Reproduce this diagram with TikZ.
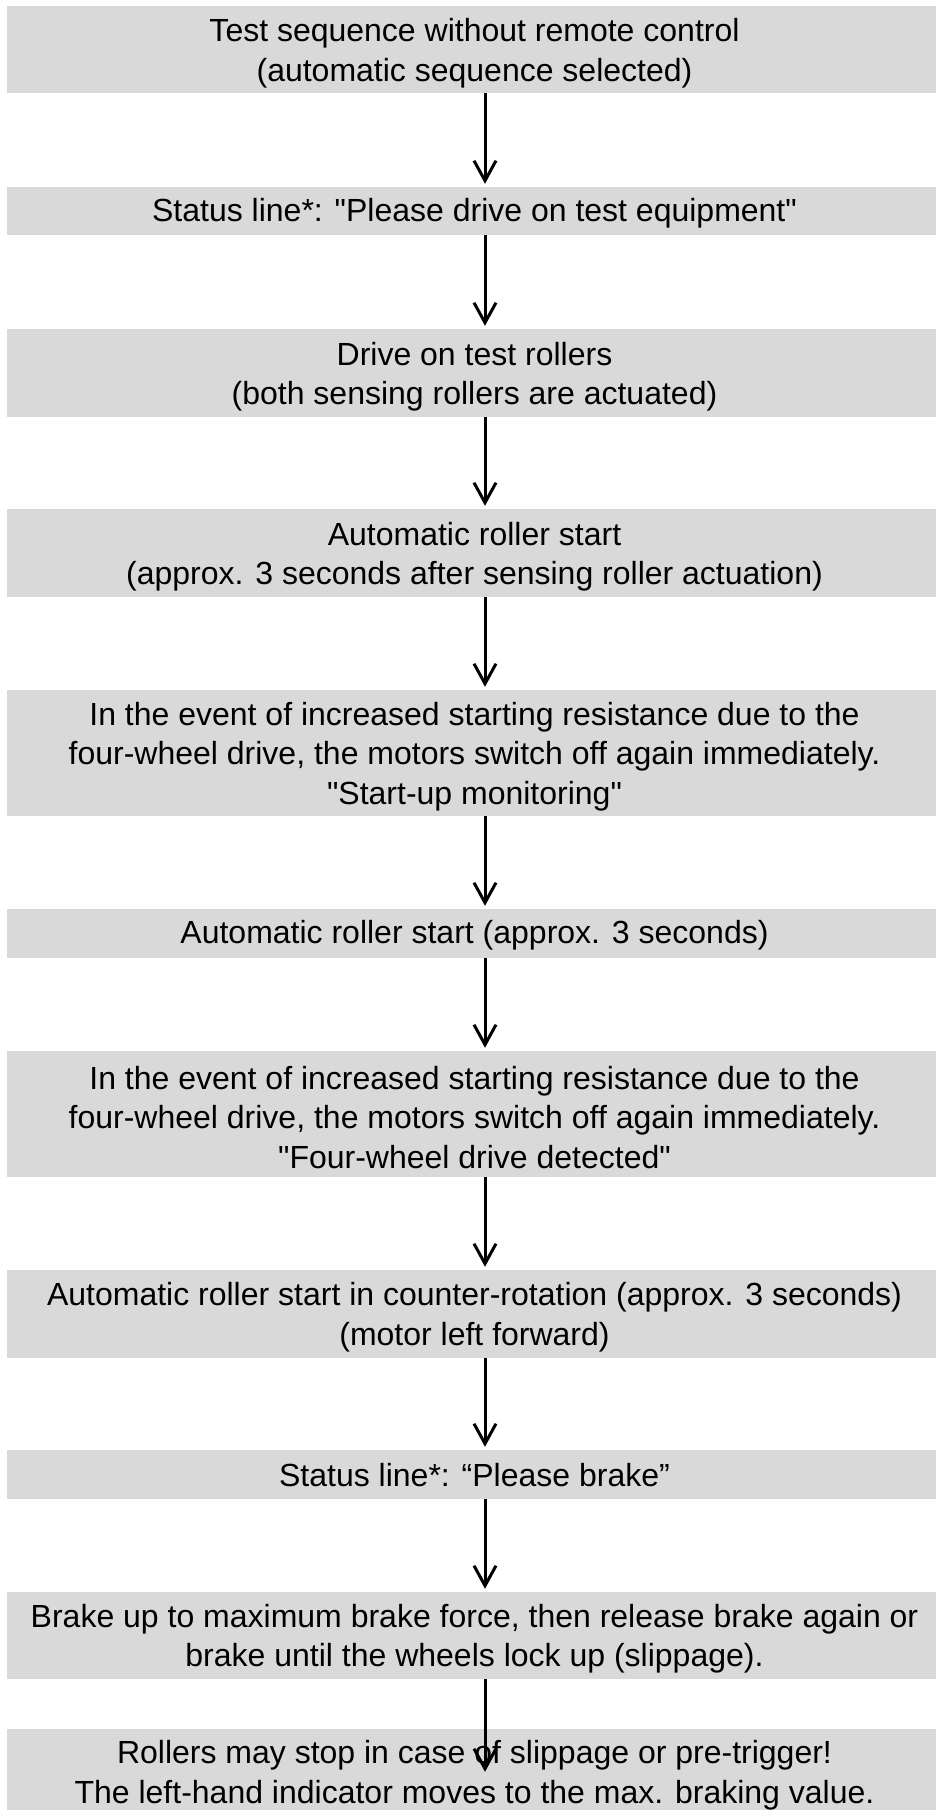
\documentclass[tikz,border=0pt]{standalone}
\usepackage{fontspec}
\setmainfont{Liberation Sans}
\usetikzlibrary{arrows.meta,calc}
\definecolor{boxgray}{RGB}{217,217,217}
\newcommand{\dq}{\textquotedbl}
\begin{document}
\begin{tikzpicture}[x=1pt,y=-1pt,
  stepbox/.style={fill=boxgray, inner sep=0pt, minimum width=935pt, anchor=center},
  steptext/.style={inner sep=0pt, align=center, font=\fontsize{32}{39.5}\selectfont, anchor=center},
  flow/.style={line width=3pt, -{Straight Barb[length=20pt,width=22pt,line width=3pt]}, shorten >=3pt}]
\useasboundingbox (0,0) rectangle (935,1810);
\coordinate (ax) at (485,0);
\node[stepbox, minimum height=87pt] (b1) at (474.5,49.5) {};
\node[stepbox, minimum height=48pt] (b2) at (474.5,211) {};
\node[stepbox, minimum height=88pt] (b3) at (474.5,373) {};
\node[stepbox, minimum height=88pt] (b4) at (474.5,553) {};
\node[stepbox, minimum height=126pt] (b5) at (474.5,753) {};
\node[stepbox, minimum height=49pt] (b6) at (474.5,933.5) {};
\node[stepbox, minimum height=126pt] (b7) at (474.5,1114) {};
\node[stepbox, minimum height=88pt] (b8) at (474.5,1314) {};
\node[stepbox, minimum height=49pt] (b9) at (474.5,1474.5) {};
\node[stepbox, minimum height=87pt] (b10) at (474.5,1635.5) {};
\node[stepbox, minimum height=92pt] (b11) at (474.5,1775) {};
\node[steptext] (t1) at ([yshift=-3.5pt]b1.center) {Test sequence without remote control\\(automatic sequence selected)};
\node[steptext] (t2) at ([yshift=-2pt]b2.center) {Status line*: \dq Please drive on test equipment\dq};
\node[steptext] (t3) at ([yshift=-3.5pt]b3.center) {Drive on test rollers\\(both sensing rollers are actuated)};
\node[steptext] (t4) at ([yshift=-3.5pt]b4.center) {Automatic roller start\\(approx. 3 seconds after sensing roller actuation)};
\node[steptext] (t5) at ([yshift=-3.5pt]b5.center) {In the event of increased starting resistance due to the\\four-wheel drive, the motors switch off again immediately.\\\dq Start-up monitoring\dq};
\node[steptext] (t6) at ([yshift=-2pt]b6.center) {Automatic roller start (approx. 3 seconds)};
\node[steptext] (t7) at ([yshift=-3.5pt]b7.center) {In the event of increased starting resistance due to the\\four-wheel drive, the motors switch off again immediately.\\\dq Four-wheel drive detected\dq};
\node[steptext] (t8) at ([yshift=-3pt]b8.center) {Automatic roller start in counter-rotation (approx. 3 seconds)\\(motor left forward)};
\node[steptext] (t9) at ([yshift=-1pt]b9.center) {Status line*: “Please brake”};
\node[steptext] (t10) at ([yshift=-3pt]b10.center) {Brake up to maximum brake force, then release brake again or\\brake until the wheels lock up (slippage).};
\node[steptext] (t11) at (b11.center) {Rollers may stop in case of slippage or pre-trigger!\\The left-hand indicator moves to the max. braking value.};
\draw[flow] (b1.south -| ax) -- (b2.north -| ax);
\draw[flow] (b2.south -| ax) -- (b3.north -| ax);
\draw[flow] (b3.south -| ax) -- (b4.north -| ax);
\draw[flow] (b4.south -| ax) -- (b5.north -| ax);
\draw[flow] (b5.south -| ax) -- (b6.north -| ax);
\draw[flow] (b6.south -| ax) -- (b7.north -| ax);
\draw[flow] (b7.south -| ax) -- (b8.north -| ax);
\draw[flow] (b8.south -| ax) -- (b9.north -| ax);
\draw[flow] (b9.south -| ax) -- (b10.north -| ax);
\draw[flow, shorten >=-43pt] (b10.south -| ax) -- (b11.north -| ax);
\end{tikzpicture}
\end{document}
